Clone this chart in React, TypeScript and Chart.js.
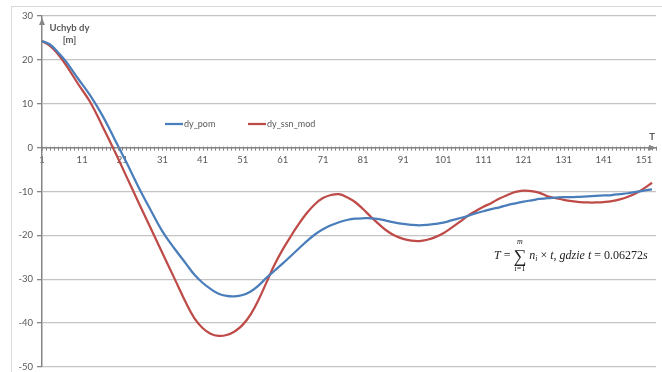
import React, { useEffect, useRef } from "react";
import { Chart, registerables } from "chart.js";

Chart.register(...registerables);

// Time step index T (sample positions along the category axis)
const stepT = [
  1, 3, 5, 7, 10, 13, 16, 19, 22, 25, 28, 31, 34, 37, 39, 41, 43, 45, 47, 49,
  51, 53, 55, 57, 59, 61, 63, 65, 67, 69, 71, 73, 75, 77, 79, 81, 83, 85, 87, 89,
  91, 93, 95, 97, 99, 101, 103, 105, 107, 109, 111, 113, 115, 117, 119, 121, 123,
  125, 127, 129, 131, 133, 135, 137, 139, 141, 143, 145, 147, 149, 151, 153,
];

// Measured deviation dy_pom [m]
const dyPom = [
  24.3, 23.5, 21.7, 19.6, 15.7, 11.9, 7.4, 2.1, -3.3, -8.9, -14.1, -19.1, -23.0,
  -26.6, -29.0, -30.8, -32.2, -33.3, -33.8, -33.9, -33.6, -32.8, -31.4, -29.6,
  -28.0, -26.4, -24.7, -23.0, -21.3, -19.8, -18.6, -17.7, -17.0, -16.5, -16.2,
  -16.1, -16.1, -16.3, -16.7, -17.1, -17.4, -17.6, -17.7, -17.6, -17.4, -17.1,
  -16.6, -16.1, -15.6, -15.0, -14.5, -14.0, -13.6, -13.1, -12.7, -12.3, -12.0,
  -11.7, -11.5, -11.4, -11.3, -11.3, -11.2, -11.1, -11.0, -10.9, -10.8, -10.6,
  -10.4, -10.1, -9.8, -9.5,
];

// Model deviation dy_ssn_mod [m]
const dySsnMod = [
  24.3, 23.2, 21.3, 18.8, 14.5, 10.4, 5.0, -0.6, -6.5, -12.4, -18.2, -24.0, -29.8,
  -35.6, -38.9, -41.1, -42.4, -42.9, -42.7, -41.9, -40.4, -38.0, -34.6, -30.6,
  -26.6, -23.2, -20.2, -17.4, -14.9, -12.9, -11.5, -10.8, -10.6, -11.3, -12.4,
  -14.0, -15.8, -17.5, -19.0, -20.1, -20.8, -21.2, -21.3, -21.0, -20.4, -19.5,
  -18.3, -17.0, -15.6, -14.5, -13.5, -12.6, -11.6, -10.8, -10.1, -9.8, -9.9,
  -10.3, -11.1, -11.5, -11.9, -12.2, -12.4, -12.5, -12.5, -12.4, -12.2, -11.8,
  -11.2, -10.4, -9.3, -8.0,
];

const xLabels = [1, 11, 21, 31, 41, 51, 61, 71, 81, 91, 101, 111, 121, 131, 141, 151];
const xMin = 1;
const xMax = 154;
const yMin = -50;
const yMax = 30;
const yStep = 10;

const seriesNames = ["dy_pom", "dy_ssn_mod"];
const seriesColors = ["#4a7ebb", "#be4b48"];

const SANS = "Lato, 'Open Sans', sans-serif";
const SERIF = "'Liberation Serif', 'DejaVu Serif', serif";
const AXIS = "#868686";
const TEXT = "#595959";
const GRID = "#c4c4c4";

const decor = {
  id: "decor",
  beforeDraw(chart: any) {
    const ctx = chart.ctx;
    ctx.save();
    ctx.strokeStyle = "#d9d9d9";
    ctx.lineWidth = 1;
    ctx.strokeRect(11.5, 6.5, 720, 420);
    ctx.restore();
  },
  afterDraw(chart: any) {
    const ctx = chart.ctx;
    const xs = chart.scales.x;
    const ys = chart.scales.y;
    const area = chart.chartArea;
    const y0 = ys.getPixelForValue(0);
    const ax = area.left;
    ctx.save();

    // minor tick marks for every category on the horizontal axis
    ctx.strokeStyle = AXIS;
    ctx.lineWidth = 1;
    ctx.beginPath();
    for (let c = xMin; c <= xMax; c++) {
      const px = Math.round(xs.getPixelForValue(c)) + 0.5;
      ctx.moveTo(px, y0 - 1);
      ctx.lineTo(px, y0 + 3);
    }
    ctx.stroke();

    // axis arrow heads
    ctx.fillStyle = AXIS;
    ctx.beginPath();
    ctx.moveTo(ax, area.top + 2);
    ctx.lineTo(ax - 3, area.top + 9);
    ctx.lineTo(ax + 3, area.top + 9);
    ctx.closePath();
    ctx.fill();
    ctx.beginPath();
    ctx.moveTo(area.right, y0);
    ctx.lineTo(area.right - 7, y0 - 3);
    ctx.lineTo(area.right - 7, y0 + 3);
    ctx.closePath();
    ctx.fill();

    // axis titles
    ctx.fillStyle = TEXT;
    ctx.font = `bold 9.5px ${SANS}`;
    ctx.textAlign = "center";
    ctx.textBaseline = "middle";
    ctx.fillText("Uchyb dy", 69.5, 28);
    ctx.fillText("[m]", 69.5, 40);
    ctx.fillText("T", area.right - 4, 137);

    // legend inside the plot
    ctx.font = `9px ${SANS}`;
    ctx.textAlign = "left";
    const legend = [
      { x: 165, name: seriesNames[0], color: seriesColors[0] },
      { x: 248, name: seriesNames[1], color: seriesColors[1] },
    ];
    legend.forEach((l) => {
      ctx.strokeStyle = l.color;
      ctx.lineWidth = 2.25;
      ctx.beginPath();
      ctx.moveTo(l.x, 124);
      ctx.lineTo(l.x + 18, 124);
      ctx.stroke();
      ctx.fillStyle = TEXT;
      ctx.fillText(l.name, l.x + 19, 124.5);
    });

    // formula for T
    ctx.fillStyle = "#222";
    ctx.textBaseline = "alphabetic";
    const base = 259;
    let x = 494;
    const put = (s: string, font: string, dy = 0) => {
      ctx.font = font;
      ctx.fillText(s, x, base + dy);
      x += ctx.measureText(s).width;
    };
    const it = `italic 12px ${SERIF}`;
    const up = `12px ${SERIF}`;
    put("T", it);
    put(" = ", up);
    const sx = x;
    ctx.font = `18px ${SERIF}`;
    ctx.fillText("\u2211", sx, base + 3);
    const sw = ctx.measureText("\u2211").width;
    ctx.font = `italic 8px ${SERIF}`;
    ctx.textAlign = "center";
    ctx.fillText("m", sx + sw / 2, base - 15);
    ctx.font = `8px ${SERIF}`;
    ctx.fillText("i=1", sx + sw / 2, base + 12);
    ctx.textAlign = "left";
    x = sx + sw + 3;
    put("n", it);
    put("i", `italic 8px ${SERIF}`, 2);
    put(" \u00d7 ", up);
    put("t, gdzie t", it);
    put(" = 0.06272", up);
    put("s", it);

    ctx.restore();
  },
};

export default function App() {
  const ref = useRef<HTMLCanvasElement | null>(null);

  useEffect(() => {
    if (!ref.current) return;
    const mk = (vals: number[]) => stepT.map((t, i) => ({ x: t, y: vals[i] }));
    const chart = new Chart(ref.current, {
      type: "line",
      data: {
        datasets: [
          {
            label: seriesNames[0],
            data: mk(dyPom),
            borderColor: seriesColors[0],
            borderWidth: 2.25,
            pointRadius: 0,
            tension: 0.4,
          },
          {
            label: seriesNames[1],
            data: mk(dySsnMod),
            borderColor: seriesColors[1],
            borderWidth: 2.25,
            pointRadius: 0,
            tension: 0.4,
          },
        ],
      },
      options: {
        animation: false,
        responsive: false,
        devicePixelRatio: 1,
        layout: { padding: { left: 0, top: 16, right: 6, bottom: 5 } },
        plugins: {
          legend: { display: false },
          tooltip: { enabled: false },
        },
        scales: {
          x: {
            type: "linear",
            position: { y: 0 },
            min: xMin,
            max: xMax,
            afterBuildTicks: (s: any) => {
              s.ticks = xLabels.map((v) => ({ value: v }));
            },
            afterFit: (s: any) => {
              s.paddingLeft = 0;
              s.paddingRight = 0;
            },
            grid: {
              display: true,
              drawOnChartArea: false,
              drawTicks: true,
              tickLength: 3,
              tickColor: "rgba(0,0,0,0)",
            },
            border: { color: AXIS, width: 1.5 },
            ticks: {
              autoSkip: false,
              maxRotation: 0,
              padding: 4,
              color: TEXT,
              font: { family: SANS, size: 9.5 },
              callback: (v: any) => String(v),
            },
          },
          y: {
            type: "linear",
            min: yMin,
            max: yMax,
            afterFit: (s: any) => {
              s.width = 42;
              s.paddingTop = 0;
              s.paddingBottom = 0;
            },
            grid: {
              color: GRID,
              lineWidth: 1.3,
              tickColor: AXIS,
              tickLength: 5,
            },
            border: { color: AXIS, width: 1.5 },
            ticks: {
              stepSize: yStep,
              padding: 4,
              color: TEXT,
              font: { family: SANS, size: 9.5 },
            },
          },
        },
      },
      plugins: [decor],
    } as any);
    return () => chart.destroy();
  }, []);

  return (
    <div style={{ position: "fixed", left: 0, top: 0, width: 662, height: 372, background: "#fff" }}>
      <canvas ref={ref} width={662} height={372} style={{ display: "block" }} />
    </div>
  );
}
